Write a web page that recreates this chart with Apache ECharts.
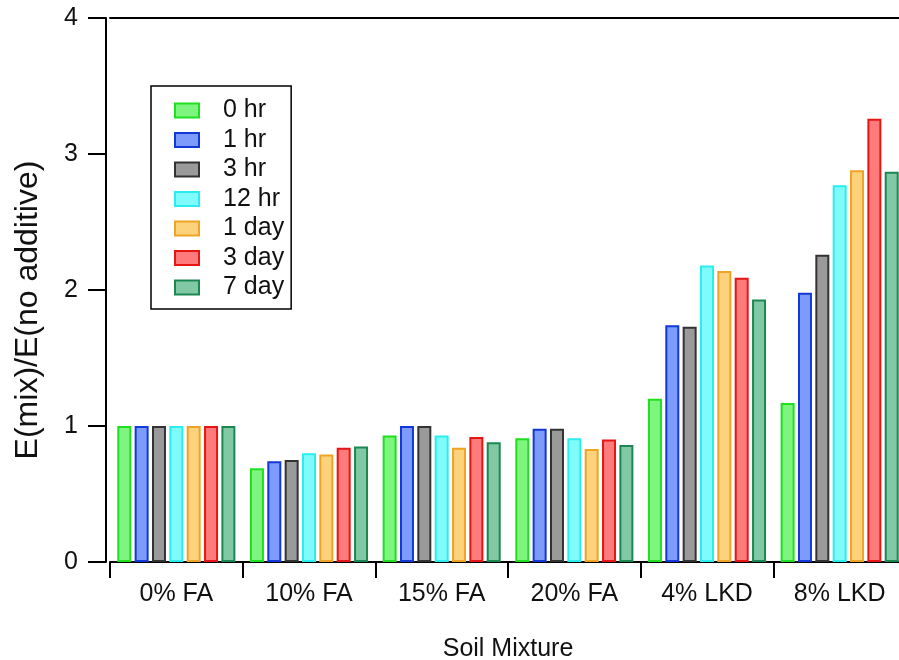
<!DOCTYPE html>
<html>
<head>
<meta charset="utf-8">
<script src="https://cdn.jsdelivr.net/npm/echarts@6/dist/echarts.min.js"></script>
<style>
html,body{margin:0;padding:0;background:#fff;}
#chart{width:899px;height:660px;}
</style>
</head>
<body>
<div id="chart"></div>
<script>
// ---- data ----
const categories = ['0% FA', '10% FA', '15% FA', '20% FA', '4% LKD', '8% LKD'];
const seriesNames = ['0 hr', '1 hr', '3 hr', '12 hr', '1 day', '3 day', '7 day'];
const hr0  = [1.00, 0.69, 0.93, 0.91, 1.20, 1.17];
const hr1  = [1.00, 0.74, 1.00, 0.98, 1.74, 1.98];
const hr3  = [1.00, 0.75, 1.00, 0.98, 1.73, 2.26];
const hr12 = [1.00, 0.80, 0.93, 0.91, 2.18, 2.77];
const day1 = [1.00, 0.79, 0.84, 0.83, 2.14, 2.88];
const day3 = [1.00, 0.84, 0.92, 0.90, 2.09, 3.26];
const day7 = [1.00, 0.85, 0.88, 0.86, 1.93, 2.87];
const yTicks = [0, 1, 2, 3, 4];

// ---- style ----
const fills   = ['#7ef57e', '#7d9bfb', '#9a9a9a', '#80fbfb', '#fdd27c', '#fd7b7b', '#80c9a4'];
const borders = ['#1fe01f', '#1238d8', '#333333', '#2aeeee', '#f0a424', '#e81515', '#1d8752'];
const FONT = 'Liberation Sans, Arial, Helvetica, sans-serif';
const FS = 25;

const allValues = [hr0, hr1, hr3, hr12, day1, day3, day7];
const chart = echarts.init(document.getElementById('chart'), null, {renderer: 'canvas'});

const series = allValues.map((vals, i) => ({
  name: seriesNames[i],
  type: 'bar',
  xAxisIndex: 0,
  yAxisIndex: 0,
  data: vals,
  barGap: '24%',
  barCategoryGap: '11%',
  itemStyle: { color: fills[i], borderColor: borders[i], borderWidth: 2 },
  emphasis: { disabled: true },
  animation: false
}));

chart.setOption({
  animation: false,
  textStyle: { fontFamily: FONT },
  grid: { left: 110, top: 18, width: 796, height: 544, containLabel: false, outerBoundsMode: 'none' },
  legend: {
    show: true,
    orient: 'vertical',
    left: 151,
    top: 86,
    padding: [12, 7, 9, 23],
    itemWidth: 24,
    itemHeight: 14,
    itemGap: 4.5,
    borderColor: '#000',
    borderWidth: 1.5,
    icon: 'rect',
    selectedMode: false,
    textStyle: { fontSize: FS, color: '#111', fontFamily: FONT, lineHeight: 25, padding: [0, 0, 0, 19] },
    data: seriesNames
  },
  xAxis: [
    {
      type: 'category',
      data: categories,
      position: 'bottom',
      axisLine: { show: true, onZero: false, lineStyle: { color: '#000', width: 2 } },
      axisTick: { show: false },
      axisLabel: { show: false },
      splitLine: { show: false }
    },
    {
      type: 'category',
      data: categories,
      position: 'bottom',
      offset: 4,
      axisLine: { show: false },
      axisTick: { show: true, length: 16, lineStyle: { color: '#000', width: 2 } },
      axisLabel: { show: true, fontSize: FS, color: '#111', margin: 16, fontFamily: FONT },
      splitLine: { show: false },
      name: 'Soil Mixture',
      nameLocation: 'middle',
      nameGap: 71,
      nameTextStyle: { fontSize: FS, color: '#111', fontFamily: FONT }
    },
    {
      type: 'category',
      data: categories,
      position: 'top',
      axisLine: { show: true, lineStyle: { color: '#000', width: 2 } },
      axisTick: { show: false },
      axisLabel: { show: false },
      splitLine: { show: false }
    }
  ],
  yAxis: {
    type: 'value',
    min: yTicks[0],
    max: yTicks[yTicks.length - 1],
    interval: 1,
    offset: 4,
    axisLine: { show: true, lineStyle: { color: '#000', width: 2 } },
    axisTick: { show: true, length: 18, lineStyle: { color: '#000', width: 2 } },
    axisLabel: { fontSize: FS, color: '#111', margin: 28, fontFamily: FONT },
    splitLine: { show: false },
    name: 'E(mix)/E(no additive)',
    nameLocation: 'middle',
    nameGap: 62,
    nameTextStyle: { fontSize: 32, color: '#111', fontFamily: FONT, padding: [0, 40, 0, 0] }
  },
  series: series
});
</script>
</body>
</html>
